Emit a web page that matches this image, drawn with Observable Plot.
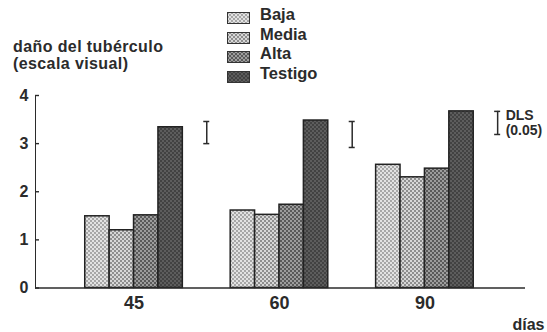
<!DOCTYPE html>
<html><head><meta charset="utf-8">
<script src="https://cdn.jsdelivr.net/npm/d3@7"></script>
<script src="https://cdn.jsdelivr.net/npm/@observablehq/plot@0.6"></script>
<style>
html,body{margin:0;padding:0;background:#fff;}
body{width:547px;height:332px;overflow:hidden;font-family:"Liberation Sans",Arial,Helvetica,sans-serif;font-weight:bold;color:#2b2b2b;}
#head{position:relative;width:547px;height:86px;}
.title{position:absolute;left:13px;top:38px;font-size:16px;line-height:17px;letter-spacing:0.4px;white-space:nowrap;}
.legend{position:absolute;left:227px;top:4px;}
.row{position:relative;height:19.5px;width:120px;}
.row svg{position:absolute;left:0;top:8px;}
.row span{position:absolute;left:33px;top:0;font-size:16.5px;line-height:20px;white-space:nowrap;}
#chart svg{display:block;}
#chart g[aria-label="x-axis tick label"] text, #chart g[aria-label="x-axis"] g.tick text{font-size:18px;}
#chart g[aria-label="y-axis line"] line, #chart g[aria-label="y-axis"] path.domain{stroke-width:1.6;}
#chart g[aria-label="y-axis tick"] path, #chart g[aria-label="y-axis"] g.tick line{stroke-width:1.4;}
</style>
</head><body>
<svg width="0" height="0" style="position:absolute" aria-hidden="true">
  <defs>
    <pattern id="pat0" width="4" height="4" patternUnits="userSpaceOnUse">
      <rect width="4" height="4" fill="#e2e2e2"/><circle cx="1" cy="1" r="0.9" fill="#8a8a8a"/><circle cx="3" cy="3" r="0.9" fill="#8a8a8a"/>
    </pattern>
    <pattern id="pat1" width="4" height="4" patternUnits="userSpaceOnUse">
      <rect width="4" height="4" fill="#8e8e8e"/><circle cx="1" cy="1" r="1" fill="#f0f0f0"/><circle cx="3" cy="3" r="1" fill="#f0f0f0"/>
    </pattern>
    <pattern id="pat2" width="4" height="4" patternUnits="userSpaceOnUse">
      <rect width="4" height="4" fill="#5a5a5a"/><circle cx="1" cy="1" r="0.9" fill="#bcbcbc"/><circle cx="3" cy="3" r="0.9" fill="#bcbcbc"/>
    </pattern>
    <pattern id="pat3" width="4" height="4" patternUnits="userSpaceOnUse">
      <rect width="4" height="4" fill="#424242"/><circle cx="1" cy="1" r="0.8" fill="#808080"/><circle cx="3" cy="3" r="0.8" fill="#808080"/>
    </pattern>
  </defs>
</svg>
<div id="head">
  <div class="title" id="title"></div>
  <div class="legend" id="legend"></div>
</div>
<div id="chart"></div>
<script>
// ---- data ----
const days = ["45", "60", "90"];
const series = ["Baja", "Media", "Alta", "Testigo"];
const baja = [1.49, 1.61, 2.56];
const media = [1.20, 1.52, 2.30];
const alta = [1.51, 1.73, 2.48];
const testigo = [3.34, 3.48, 3.67];
const dlsLow = [3.00, 2.92, 3.19];
const dlsHigh = [3.46, 3.46, 3.67];
const yTicks = [0, 1, 2, 3, 4];
const titleLines = ["daño del tubérculo", "(escala visual)"];
const xLabel = "días";
const dlsLabel = "DLS\n(0.05)";
const patterns = ["url(#pat0)", "url(#pat1)", "url(#pat2)", "url(#pat3)"];

const valuesBySeries = [baja, media, alta, testigo];
const rows = series.flatMap((s, i) => days.map((d, j) => ({day: d, series: s, value: valuesBySeries[i][j]})));
const dls = days.map((d, j) => ({day: d, lo: dlsLow[j], hi: dlsHigh[j]}));

// ---- header ----
document.getElementById("title").innerHTML = titleLines.join("<br>");
const legend = document.getElementById("legend");
series.forEach((s, i) => {
  const row = document.createElement("div");
  row.className = "row";
  row.innerHTML = `<svg width="23" height="12"><rect x="0.5" y="0.5" width="22" height="11" fill="${patterns[i]}" stroke="#333" stroke-width="1"/></svg><span>${s}</span>`;
  legend.appendChild(row);
});

// ---- chart ----
const W = 547, H = 246, mL = 35, mR = 22, mT = 9, mB = 44.5;
const xScaleOpts = {type: "band", domain: days, range: [mL, W - mR], paddingInner: 0.329, paddingOuter: 0.349, align: 0.49, round: false};
let bw, step;
try {
  const sc = Plot.scale({x: xScaleOpts});
  bw = sc.bandwidth; step = sc.step;
} catch (e) {}
if (!(bw > 0)) {
  const b = d3.scaleBand(days, xScaleOpts.range).paddingInner(xScaleOpts.paddingInner).paddingOuter(xScaleOpts.paddingOuter).align(xScaleOpts.align);
  bw = b.bandwidth(); step = b.step();
}
const n = series.length;
const barMarks = series.map((s, i) => Plot.barY(rows.filter(r => r.series === s), {
  x: "day", y: "value", fill: patterns[i], stroke: "#222", strokeWidth: 1.5,
  insetLeft: i * bw / n, insetRight: (n - 1 - i) * bw / n
}));
const capInset = bw / 2 - 3;

const chart = Plot.plot({
  width: W, height: H,
  marginLeft: mL, marginRight: mR, marginTop: mT, marginBottom: mB,
  style: {fontFamily: '"Liberation Sans", Arial, Helvetica, sans-serif', fontSize: "16px", fontWeight: "bold", color: "#2b2b2b", background: "#fff"},
  x: {domain: days, paddingInner: 0.329, paddingOuter: 0.349, align: 0.49, round: false, tickSize: 0, tickPadding: 8, label: xLabel, labelAnchor: "right"},
  y: {domain: [0, 4], ticks: yTicks, tickFormat: d => String(d), tickSize: -4, tickPadding: 11, line: true, label: null},
  marks: [
    ...barMarks,
    Plot.ruleY([0], {stroke: "#2b2b2b", strokeWidth: 1.6}),
    Plot.ruleX(dls, {x: "day", y1: "lo", y2: "hi", dx: step / 2, stroke: "#2b2b2b", strokeWidth: 1.5}),
    Plot.tickY(dls, {x: "day", y: "lo", dx: step / 2, insetLeft: capInset, insetRight: capInset, stroke: "#2b2b2b", strokeWidth: 1.5}),
    Plot.tickY(dls, {x: "day", y: "hi", dx: step / 2, insetLeft: capInset, insetRight: capInset, stroke: "#2b2b2b", strokeWidth: 1.5}),
    Plot.text(dls.filter(d => d.day === days[days.length - 1]), {
      x: "day", y: d => (d.lo + d.hi) / 2, text: () => dlsLabel, dx: step / 2 + 8,
      textAnchor: "start", lineAnchor: "middle", lineHeight: 1.07, fontSize: 14, fontWeight: "bold", fill: "#2b2b2b"
    })
  ]
});
document.getElementById("chart").appendChild(chart);
</script>
</body></html>
